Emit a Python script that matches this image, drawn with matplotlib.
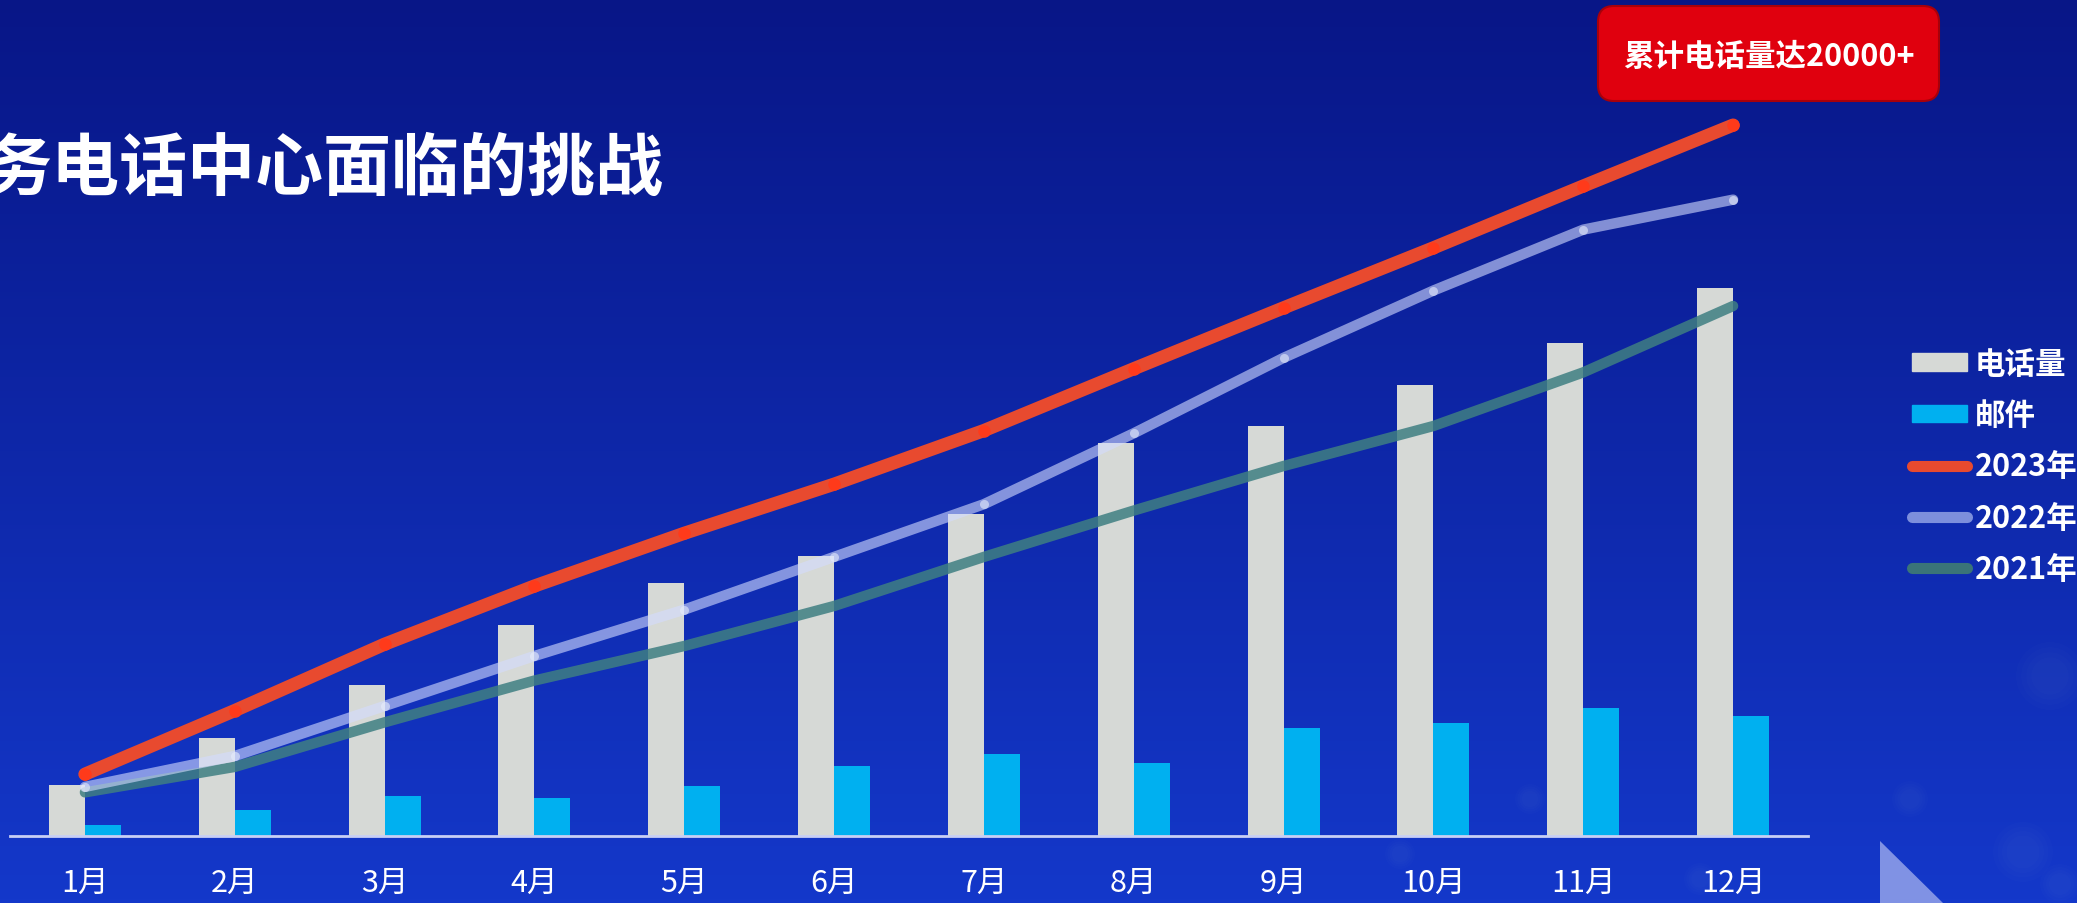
import numpy as np
import matplotlib.pyplot as plt
from matplotlib.patches import FancyBboxPatch, Patch, Circle, Polygon
from matplotlib.lines import Line2D

plt.rcParams['font.family'] = ['Noto Sans CJK SC', 'DejaVu Sans']

# monthly data
months = ['1月', '2月', '3月', '4月', '5月', '6月', '7月', '8月', '9月', '10月', '11月', '12月']
calls = [280, 540, 830, 1160, 1390, 1540, 1770, 2160, 2255, 2480, 2710, 3015]
mails = [60, 145, 220, 210, 275, 385, 450, 400, 595, 620, 705, 660]
y2023 = [340, 690, 1055, 1375, 1665, 1935, 2230, 2570, 2905, 3235, 3575, 3910]
y2022 = [270, 440, 715, 990, 1245, 1535, 1825, 2215, 2630, 3000, 3335, 3500]
y2021 = [240, 380, 625, 855, 1045, 1265, 1535, 1790, 2035, 2255, 2550, 2915]

W, H = 2077, 904
fig = plt.figure(figsize=(W / 100, H / 100), dpi=100)

# background gradient
bg = fig.add_axes([0, 0, 1, 1], zorder=-10)
top = np.array([8, 22, 135]) / 255
bot = np.array([20, 56, 202]) / 255
t = np.linspace(0, 1, 256)[:, None]
grad = top[None, :] * (1 - t) + bot[None, :] * t
bg.imshow(grad[:, None, :].repeat(2, axis=1), aspect='auto', extent=[0, W, 0, H], origin='upper')
bg.set_xlim(0, W)
bg.set_ylim(0, H)
bg.axis('off')

# faint bokeh dots, lower right
for cx, cy, r in [(2050, 677, 34), (1910, 800, 18), (2023, 853, 30), (1580, 760, 20),
                  (1530, 800, 15), (1400, 855, 15), (2060, 885, 20), (1700, 880, 16)]:
    for k in range(4):
        bg.add_patch(Circle((cx, H - cy), r * (1 - 0.15 * k), color='white', alpha=0.012, lw=0))
bg.add_patch(Polygon([(1880, H - 842), (1880, 0), (1943, 0)], closed=True,
                     color='#8d9de8', alpha=0.9, lw=0))

# main chart
ax = fig.add_axes([10 / W, (H - 837) / H, (1808 - 10) / W, (837 - 100) / H])
ax.set_facecolor('none')
x = np.arange(len(months))
bw = 0.24
ax.bar(x - bw / 2, calls, width=bw, color='#d6d9d6', zorder=2)
ax.bar(x + bw / 2, mails, width=bw, color='#00b0f0', zorder=2)

ax.plot(x, y2021, color='#3f7f82', alpha=0.85, lw=7.5, solid_capstyle='round',
        solid_joinstyle='round', zorder=3)
ax.plot(x, y2022, color='#d4dcff', alpha=0.6, lw=7.5, solid_capstyle='round',
        solid_joinstyle='round', marker='o', ms=6.5, mfc='#e8edfc', mec='none', zorder=4)
ax.plot(x, y2023, color='#e84a2f', lw=9.5, solid_capstyle='round',
        solid_joinstyle='round', marker='o', ms=9, mfc='#ff3a1a', mec='none', zorder=5)

ax.set_xlim(-0.5, 11.5)
ax.set_ylim(0, 737 * 5.5)
ax.set_xticks(x)
ax.set_xticklabels(months, color='white', fontsize=22)
ax.tick_params(axis='x', length=0, pad=22)
ax.set_yticks([])
for s in ['top', 'right', 'left']:
    ax.spines[s].set_visible(False)
ax.spines['bottom'].set_color('#c8cff5')
ax.spines['bottom'].set_linewidth(2)
ax.spines['bottom'].set_zorder(6)

# title
fig.text(663 / W, 1 - 170 / H, '务电话中心面临的挑战', color='white', fontsize=49,
         fontweight='heavy', ha='right', va='center')

# red badge
badge = FancyBboxPatch((1598, H - 102), 341, 95, boxstyle='round,pad=0,rounding_size=16',
                       transform=None, facecolor='#e0000e', edgecolor='#a8000a', lw=1.5)
fig.patches.append(badge)
fig.text(1769 / W, 1 - 57 / H, '累计电话量达20000+', color='white', fontsize=22,
         fontweight='heavy', ha='center', va='center')

# legend
handles = [
    Patch(color='#d6d9d6', label='电话量'),
    Patch(color='#00b0f0', label='邮件'),
    Line2D([], [], color='#e84a2f', lw=8, solid_capstyle='round', label='2023年'),
    Line2D([], [], color='#7d8fdc', lw=8, solid_capstyle='round', label='2022年'),
    Line2D([], [], color='#3a7478', lw=8, solid_capstyle='round', label='2021年'),
]
leg = fig.legend(handles=handles, loc='center left', bbox_to_anchor=(1912 / W, 1 - 467.5 / H),
                 frameon=False, borderaxespad=0, borderpad=0, handlelength=1.8,
                 handleheight=0.5, handletextpad=0.25, labelspacing=0.63,
                 prop={'size': 22, 'weight': 'heavy'})
for txt in leg.get_texts():
    txt.set_color('white')

fig.savefig('out.png', dpi=100)
